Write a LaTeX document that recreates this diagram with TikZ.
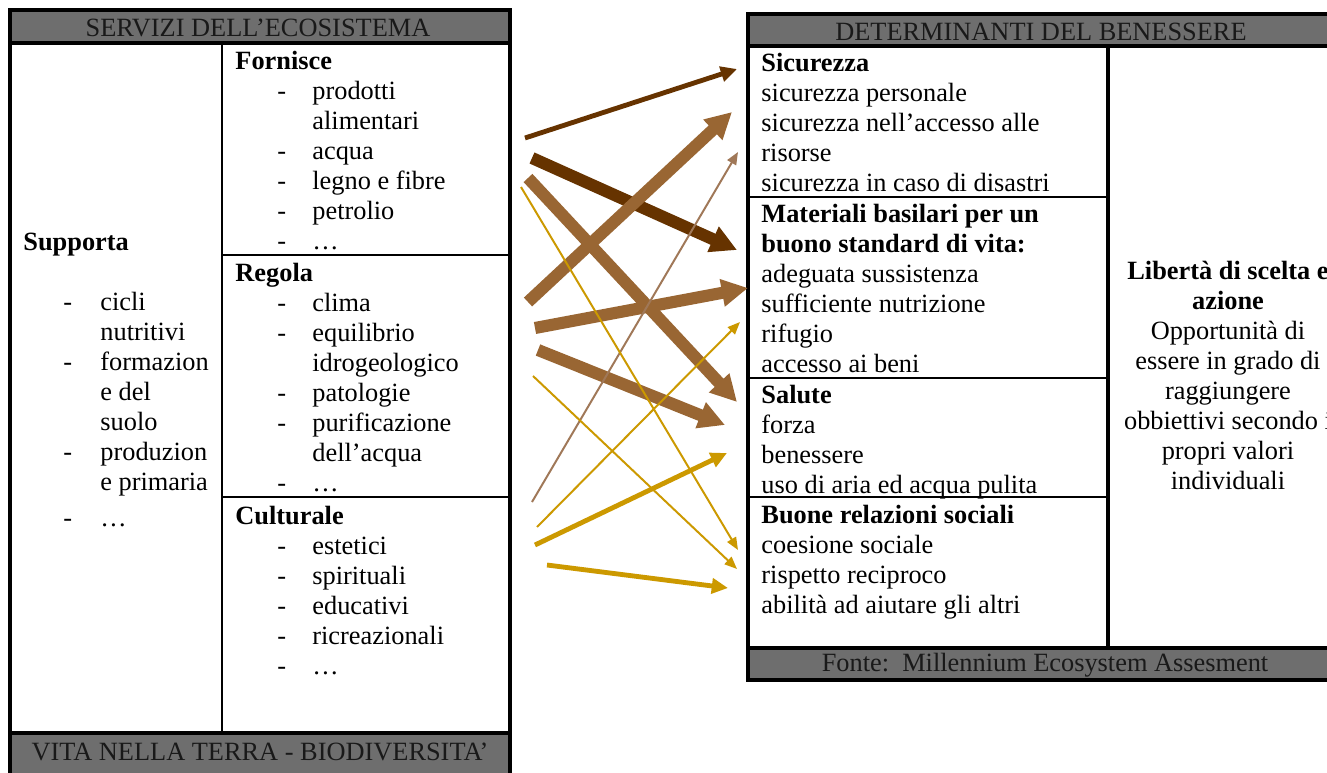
\documentclass[tikz,border=0pt]{standalone}
\usepackage{fontspec}
\setmainfont{Liberation Serif}
\usetikzlibrary{arrows.meta}

\definecolor{darkbrown}{HTML}{663300}
\definecolor{midbrown}{HTML}{996633}
\definecolor{golden}{HTML}{CC9900}
\definecolor{paletan}{HTML}{A07858}
\definecolor{bandgray}{HTML}{6E6E6E}

\begin{document}
\begin{tikzpicture}[
        x=0.016cm, y=-0.016cm,
        band/.style={draw=black, fill=bandgray, line width=1.6pt},
        frame/.style={draw=black, line width=1.8pt},
        rule/.style={draw=black, line width=1.3pt},
        title/.style={anchor=base, inner sep=0pt, font=\fontsize{12}{13.66}\selectfont, text=black!90},
        txt/.style={anchor=north west, inner sep=0pt, font=\fontsize{12}{13.66}\selectfont},
        heavy/.style={line width=5.5pt, -{Triangle[length=0.42cm,width=0.42cm]}},
        medium/.style={line width=2.2pt, -{Triangle[length=0.26cm,width=0.24cm]}},
        light/.style={line width=0.9pt, -{Triangle[length=0.2cm,width=0.16cm]}}
    ]
        \useasboundingbox (0,0) rectangle (1327,773);
        \fill[white] (0,0) rectangle (1327,773);

        % Servizi dell'ecosistema
        \draw[frame] (10,10) rectangle (510,800);
        \draw[band] (10,10) rectangle (510,43);
        \draw[band] (10,733) rectangle (510,800);
        \draw[line width=1pt] (222,43) -- (222,733);
        \draw[rule] (222,255) -- (510,255);
        \draw[rule] (222,497) -- (510,497);
        \node[title] (servizi) at (258,36) {SERVIZI DELL'ECOSISTEMA};
        \node[title] (vita) at (260,760) {VITA NELLA TERRA - BIODIVERSITA'};

        \node[txt] (supporta) at (23,229) {\begin{tabular}{@{}p{0.64cm}@{}p{0.592cm}@{}l@{}}
            \multicolumn{3}{@{}l@{}}{\textbf{Supporta}}\\
            \\
            & - & cicli\\
            & & nutritivi\\
            & - & formazion\\
            & & e del\\
            & & suolo\\
            & - & produzion\\
            & & e primaria\\[3pt]
            & - & …
        \end{tabular}};
        \node[txt] (fornisce) at (235,48) {\begin{tabular}{@{}p{0.672cm}@{}p{0.56cm}@{}l@{}}
            \multicolumn{3}{@{}l@{}}{\textbf{Fornisce}}\\
            & - & prodotti\\
            & & alimentari\\
            & - & acqua\\
            & - & legno e fibre\\
            & - & petrolio\\
            & - & …
        \end{tabular}};
        \node[txt] (regola) at (235,260) {\begin{tabular}{@{}p{0.672cm}@{}p{0.56cm}@{}l@{}}
            \multicolumn{3}{@{}l@{}}{\textbf{Regola}}\\
            & - & clima\\
            & - & equilibrio\\
            & & idrogeologico\\
            & - & patologie\\
            & - & purificazione\\
            & & dell'acqua\\
            & - & …
        \end{tabular}};
        \node[txt] (culturale) at (235,503) {\begin{tabular}{@{}p{0.672cm}@{}p{0.56cm}@{}l@{}}
            \multicolumn{3}{@{}l@{}}{\textbf{Culturale}}\\
            & - & estetici\\
            & - & spirituali\\
            & - & educativi\\
            & - & ricreazionali\\
            & - & …
        \end{tabular}};

        % Determinanti del benessere
        \draw[frame] (748,14) rectangle (1345,680);
        \draw[band] (748,14) rectangle (1345,46);
        \draw[band] (748,648) rectangle (1345,680);
        \draw[frame] (1108,46) -- (1108,648);
        \draw[rule] (748,197) -- (1108,197);
        \draw[rule] (748,378) -- (1108,378);
        \draw[line width=1pt] (748,497) -- (1108,497);
        \node[title] (determinanti) at (1041,40) {DETERMINANTI DEL BENESSERE};
        \node[title] (fonte) at (1045,671) {Fonte:\ \ Millennium Ecosystem Assesment};

        \node[txt] (sicurezza) at (761,50) {\begin{tabular}{@{}l@{}}
            \textbf{Sicurezza}\\
            sicurezza personale\\
            sicurezza nell'accesso alle\\
            risorse\\
            sicurezza in caso di disastri
        \end{tabular}};
        \node[txt] (materiali) at (761,201) {\begin{tabular}{@{}l@{}}
            \textbf{Materiali basilari per un}\\
            \textbf{buono standard di vita:}\\
            adeguata sussistenza\\
            sufficiente nutrizione\\
            rifugio\\
            accesso ai beni
        \end{tabular}};
        \node[txt] (salute) at (761,382) {\begin{tabular}{@{}l@{}}
            \textbf{Salute}\\
            forza\\
            benessere\\
            uso di aria ed acqua pulita
        \end{tabular}};
        \node[txt] (relazioni) at (761,502) {\begin{tabular}{@{}l@{}}
            \textbf{Buone relazioni sociali}\\
            coesione sociale\\
            rispetto reciproco\\
            abilità ad aiutare gli altri
        \end{tabular}};
        \node[txt, anchor=north] (liberta) at (1228,258) {\begin{tabular}{@{}c@{}}
            \textbf{Libertà di scelta e}\\
            \textbf{azione}\\
            Opportunità di\\
            essere in grado di\\
            raggiungere\\
            obbiettivi secondo i\\
            propri valori\\
            individuali
        \end{tabular}};

        % Arrow ends
        \coordinate (s1) at (525,138);  \coordinate (e1) at (737,69);
        \coordinate (s2) at (532,158);  \coordinate (e2) at (737,250);
        \coordinate (s3) at (528,302);  \coordinate (e3) at (732,112);
        \coordinate (s4) at (528,178);  \coordinate (e4) at (737,402);
        \coordinate (s5) at (535,328);  \coordinate (e5) at (748,288);
        \coordinate (s6) at (538,350);  \coordinate (e6) at (725,425);
        \coordinate (s7) at (532,502);  \coordinate (e7) at (738,152);
        \coordinate (s8) at (521,187);  \coordinate (e8) at (738,550);
        \coordinate (s9) at (533,376);  \coordinate (e9) at (737,569);
        \coordinate (s10) at (537,527); \coordinate (e10) at (740,322);
        \coordinate (s11) at (535,545); \coordinate (e11) at (727,453);
        \coordinate (s12) at (547,565); \coordinate (e12) at (728,588);

        % Arrows
        \draw[heavy, darkbrown] (s2) -- (e2);
        \draw[heavy, midbrown] (s4) -- (e4);
        \draw[heavy, midbrown] (s3) -- (e3);
        \draw[heavy, midbrown] (s5) -- (e5);
        \draw[heavy, midbrown] (s6) -- (e6);
        \draw[medium, darkbrown] (s1) -- (e1);
        \draw[light, paletan] (s7) -- (e7);
        \draw[light, golden] (s8) -- (e8);
        \draw[light, golden] (s9) -- (e9);
        \draw[light, golden] (s10) -- (e10);
        \draw[medium, golden] (s11) -- (e11);
        \draw[medium, golden] (s12) -- (e12);
    \end{tikzpicture}
\end{document}
